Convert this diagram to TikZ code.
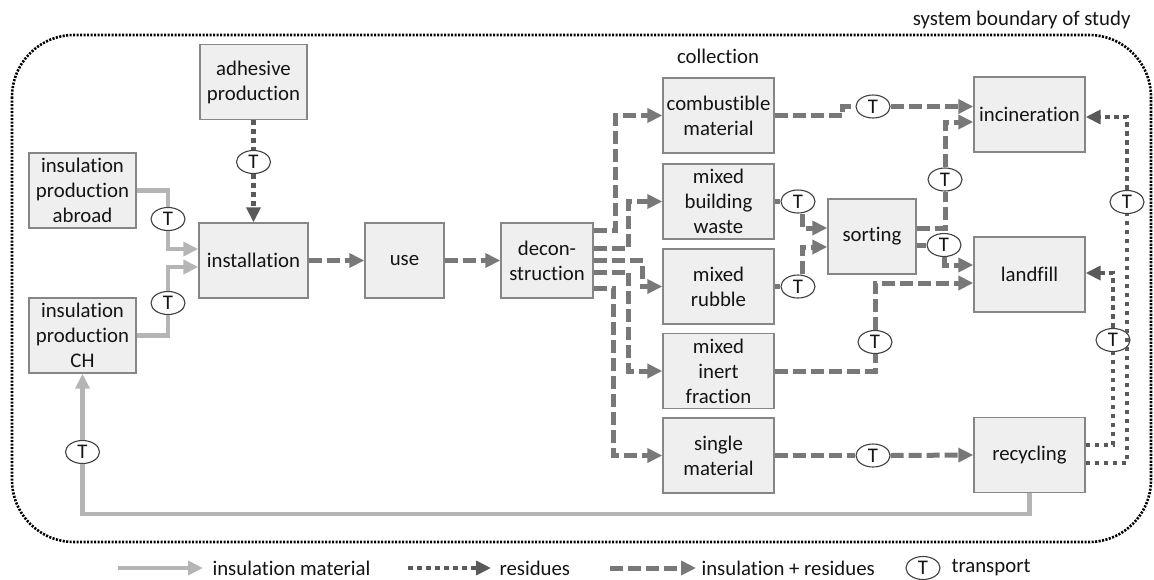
\documentclass[tikz,border=0pt]{standalone}
\usepackage{fontspec}
\setmainfont{Carlito}[Ligatures={NoCommon,NoContextual}]
\usetikzlibrary{shapes.geometric, arrows.meta, positioning}
\definecolor{boxfill}{HTML}{EFEFEF}
\definecolor{boxline}{HTML}{868686}
\definecolor{insgray}{HTML}{B5B5B5}
\definecolor{mixgray}{HTML}{787878}
\definecolor{resgray}{HTML}{5A5A5A}
\definecolor{txtcol}{HTML}{141414}

\begin{document}
\begin{tikzpicture}[
  x=1pt, y=-1pt,
  every node/.style={font=\fontsize{20.8}{25}\selectfont, text=txtcol},
  box/.style={rectangle, draw=boxline, fill=boxfill, line width=1.4pt, minimum width=111pt, minimum height=75pt, inner sep=0pt, align=center},
  tnode/.style={ellipse, draw=black!75, fill=white, line width=1.1pt, minimum width=34pt, minimum height=23pt, inner sep=0pt},
  ins/.style={draw=insgray, line width=4.5pt},
  mix/.style={draw=mixgray, line width=5pt, dash pattern=on 13pt off 5pt},
  res/.style={draw=resgray, line width=4.5pt, dash pattern=on 4.5pt off 4.5pt},
  arrowed/.style={-{Triangle[length=15pt,width=14pt]}},
  boundary/.style={line width=2.6pt, dash pattern=on 2.1pt off 1.4pt}
]
\useasboundingbox (0,0) rectangle (1154,579);

% system boundary
\draw[boundary, rounded corners=62pt] (12,35) rectangle (1151,542);
\node[anchor=east] (sysb) at (1134,20) {system boundary of study};
\node (coll) at (718,56) {collection};

% processes
\node[box, minimum width=107pt] (adh) at (253.5,82) {adhesive\\production};
\node[box, minimum width=107pt] (abroad) at (82.5,190.5) {insulation\\production\\abroad};
\node[box, minimum width=109pt] (inst) at (253.5,260.5) {installation};
\node[box, minimum width=107pt] (ch) at (82.5,335.5) {insulation\\production\\CH};
\node[box, minimum width=79pt] (use) at (404.5,260.5) {use};
\node[box, minimum width=92pt] (decon) at (547,260.5) {decon-\\struction};
\node[box] (comb) at (718.5,115.5) {combustible\\material};
\node[box] (mbw) at (718.5,201.5) {mixed\\building\\waste};
\node[box] (rubble) at (718.5,286.5) {mixed\\rubble};
\node[box] (inert) at (718.5,371) {mixed\\inert\\fraction};
\node[box] (single) at (718.5,455.5) {single\\material};
\node[box, minimum width=88pt] (sort) at (872,236.5) {sorting};
\node[box] (incin) at (1029.5,114.5) {incineration};
\node[box] (landf) at (1029.5,274.5) {landfill};
\node[box] (recyc) at (1029.5,455) {recycling};

% transport steps
\node[tnode] (t1) at (168,219) {T};
\node[tnode] (t2) at (168,303) {T};
\node[tnode] (t3) at (253.5,162) {T};
\node[tnode] (t4) at (873,106.5) {T};
\node[tnode] (t5) at (798,201.5) {T};
\node[tnode] (t6) at (798,286.5) {T};
\node[tnode] (t7) at (945,179.5) {T};
\node[tnode] (t8) at (944,245) {T};
\node[tnode] (t9) at (875,342) {T};
\node[tnode] (t10) at (873,455.5) {T};
\node[tnode] (t11) at (1127,202) {T};
\node[tnode] (t12) at (1113,340) {T};
\node[tnode] (t13) at (82.5,452) {T};

% insulation material
\draw[ins] (abroad.east) -| (t1.north);
\draw[ins, arrowed] (t1.south) |- ([yshift=11.5pt]inst.west);
\draw[ins] (ch.east) -| (t2.south);
\draw[ins, arrowed] (t2.north) |- ([yshift=-6.5pt]inst.west);
\draw[ins] (recyc.south) -- ++(0,21) -| (t13.south);
\draw[ins, arrowed] (t13.north) -- (ch.south);

% residues
\draw[res] (adh.south) -- (t3.north);
\draw[res, arrowed] (t3.south) -- (inst.north);
\draw[res] ([yshift=-8pt]recyc.east) -| (t11.south);
\draw[res, arrowed] (t11.north) |- ([yshift=-2.5pt]incin.east);
\draw[res] ([yshift=10pt]recyc.east) -| (t12.south);
\draw[res, arrowed] (t12.north) |- ([yshift=1.5pt]landf.east);

% insulation + residues
\draw[mix, arrowed] (inst) -- (use);
\draw[mix, arrowed] (use) -- (decon);
\draw[mix, arrowed] ([yshift=30.5pt]decon.east) -- ++(22,0) |- (comb.west);
\draw[mix, arrowed] ([yshift=12.5pt]decon.east) -- ++(35,0) |- (mbw.west);
\draw[mix, arrowed] (decon.east) -- ++(49,0) |- (rubble.west);
\draw[mix, arrowed] ([yshift=-11.5pt]decon.east) -- ++(35,0) |- (inert.west);
\draw[mix, arrowed] ([yshift=-27.5pt]decon.east) -- ++(20,0) |- (single.west);
\draw[mix] (comb.east) -- ++(68,0) -- ++(0,-9) -- (t4.west);
\draw[mix, arrowed] (t4.east) -- (t4.east -| incin.west);
\draw[mix] (mbw.east) -- (t5.west);
\draw[mix, arrowed] ([xshift=4pt]t5.south) |- ([yshift=8.5pt]sort.west);
\draw[mix] (rubble.east) -- (t6.west);
\draw[mix, arrowed] ([xshift=4pt]t6.north) |- ([yshift=-10.5pt]sort.west);
\draw[mix] ([yshift=8.5pt]sort.east) -| (t7.south);
\draw[mix, arrowed] (t7.north) |- ([yshift=-7.5pt]incin.west);
\draw[mix] ([yshift=-8.5pt]sort.east) -- (t8.west);
\draw[mix, arrowed] (t8.south) |- ([yshift=9.5pt]landf.west);
\draw[mix] (inert.east) -| (t9.south);
\draw[mix, arrowed] (t9.north) |- ([yshift=-8.5pt]landf.west);
\draw[mix] (single.east) -- (t10.west);
\draw[mix, arrowed] (t10.east) -- (recyc.west);

% legend
\coordinate (lgins0) at (118,568);
\coordinate (lgins1) at (203,568);
\draw[ins, arrowed] (lgins0) -- (lgins1);
\node[anchor=west] (lgins) at (209,568) {insulation material};
\coordinate (lgres0) at (408,568);
\coordinate (lgres1) at (491,568);
\draw[res, arrowed] (lgres0) -- (lgres1);
\node[anchor=west] (lgres) at (496,568) {residues};
\coordinate (lgmix0) at (610,568);
\coordinate (lgmix1) at (696,568);
\draw[mix, arrowed] (lgmix0) -- (lgmix1);
\node[anchor=west] (lgmix) at (698,568) {insulation + residues};
\node[tnode] (lgt) at (923,568) {T};
\node[anchor=west] (lgtr) at (948,568) {transport};
\end{tikzpicture}
\end{document}
